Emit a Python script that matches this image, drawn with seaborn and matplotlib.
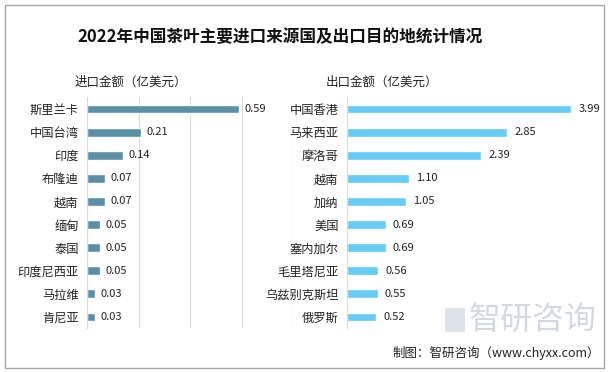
import matplotlib
matplotlib.use('Agg')
import matplotlib.pyplot as plt
import seaborn as sns
from matplotlib.patches import Rectangle

# data (亿美元)
import_names = ['斯里兰卡', '中国台湾', '印度', '布隆迪', '越南', '缅甸', '泰国', '印度尼西亚', '马拉维', '肯尼亚']
import_vals = [0.59, 0.21, 0.14, 0.07, 0.07, 0.05, 0.05, 0.05, 0.03, 0.03]
export_names = ['中国香港', '马来西亚', '摩洛哥', '越南', '加纳', '美国', '塞内加尔', '毛里塔尼亚', '乌兹别克斯坦', '俄罗斯']
export_vals = [3.99, 2.85, 2.39, 1.10, 1.05, 0.69, 0.69, 0.56, 0.55, 0.52]

sns.set_style('white')
plt.rcParams['font.family'] = ['Noto Sans CJK SC', 'DejaVu Sans']

fig = plt.figure(figsize=(6.14, 3.72), dpi=100)
fig.patch.set_facecolor('white')

ax1 = fig.add_axes([0.1417, 0.117, 0.3355, 0.621])
ax2 = fig.add_axes([0.5651, 0.117, 0.412, 0.621])

sns.barplot(x=import_vals, y=import_names, ax=ax1, color='#5a8fa6', width=0.38, saturation=1)
sns.barplot(x=export_vals, y=export_names, ax=ax2, color='#66ccf5', width=0.38, saturation=1)

# left panel: light vertical grid
ax1.set_xlim(0, 0.8)
ax1.set_xticks([0, 0.2, 0.4, 0.6, 0.8])
ax1.grid(axis='x', color='#d9d9d9', linewidth=0.8)
ax2.set_xlim(0, 4.5)
ax2.set_xticks([])

for ax, vals in [(ax1, import_vals), (ax2, export_vals)]:
    for s in ['top', 'right', 'bottom']:
        ax.spines[s].set_visible(False)
    ax.spines['left'].set_color('#d9d9d9')
    ax.spines['left'].set_linewidth(0.8)
    ax.tick_params(axis='x', labelbottom=False, length=0)
    ax.tick_params(axis='y', length=0, labelsize=8.8, labelcolor='#222222', pad=6)
    ax.set_xlabel('')
    ax.set_ylabel('')
    ax.set_axisbelow(True)
    xmax = ax.get_xlim()[1]
    for i, v in enumerate(vals):
        ax.text(v + xmax * 0.028, i, '{:.2f}'.format(v), va='center', ha='left',
                fontsize=8, color='#222222')

fig.text(280 / 614, 1 - 37 / 372, '2022年中国茶叶主要进口来源国及出口目的地统计情况',
         ha='center', va='center', fontsize=12, fontweight='bold', color='#111111')
fig.text(131 / 614, 1 - 82 / 372, '进口金额（亿美元）', ha='center', va='center',
         fontsize=9, color='#222222')
fig.text(382 / 614, 1 - 82 / 372, '出口金额（亿美元）', ha='center', va='center',
         fontsize=9, color='#222222')

# watermark and source
fig.text(533 / 614, 1 - 320 / 372, '智研咨询', ha='center', va='center',
         fontsize=23, color='#d4d9e0')
fig.add_artist(Rectangle((445 / 614, 1 - 332 / 372), 20 / 614, 24 / 372,
                         transform=fig.transFigure, facecolor='#dde3ea', edgecolor='none'))
fig.text(600 / 614, 1 - 353 / 372, '制图：智研咨询（www.chyxx.com）', ha='right', va='center',
         fontsize=9, color='#222222')

# outer frame
fig.add_artist(Rectangle((5 / 614, 1 - 368 / 372), 599 / 614, 363 / 372,
                         transform=fig.transFigure, fill=False, edgecolor='#a6a6a6', linewidth=1))

fig.savefig('out.png', dpi=100, facecolor='white')
